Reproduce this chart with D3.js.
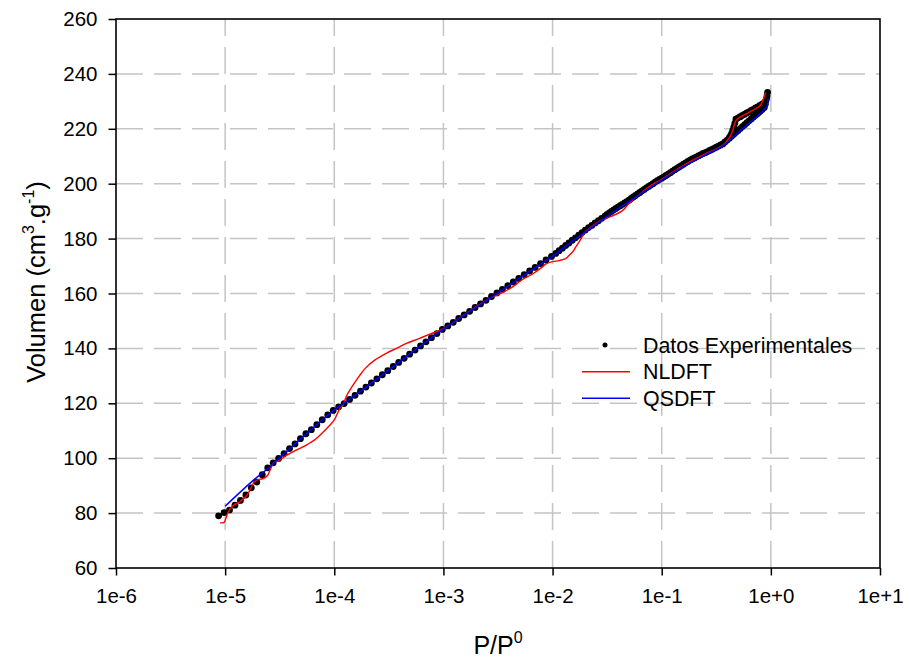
<!DOCTYPE html>
<html>
<head>
<meta charset="utf-8">
<script src="https://cdn.jsdelivr.net/npm/d3@7"></script>
<style>
  html, body { margin: 0; padding: 0; background: #fff; }
  svg { display: block; }
  text { font-family: "Liberation Sans", Arial, sans-serif; fill: #000; }
</style>
</head>
<body>
<svg id="chart" width="905" height="658"></svg>
<script>
// ---------- data (x stored as log10(P/P0)) ----------
const xTickValues = [1e-6, 1e-5, 1e-4, 1e-3, 1e-2, 1e-1, 1e0, 1e1];
const xTickLabels = ["1e-6", "1e-5", "1e-4", "1e-3", "1e-2", "1e-1", "1e+0", "1e+1"];
const yTickValues = [60, 80, 100, 120, 140, 160, 180, 200, 220, 240, 260];

// Experimental adsorption branch
const adsLogP = [-5.06,-5.01,-4.96,-4.91,-4.86,-4.81,-4.76,-4.71,-4.66,-4.61,-4.56,-4.51,-4.46,-4.41,-4.36,-4.31,-4.26,-4.21,-4.16,-4.11,-4.06,-4.01,-3.96,-3.91,-3.86,-3.81,-3.76,-3.71,-3.66,-3.61,-3.56,-3.51,-3.46,-3.41,-3.36,-3.31,-3.26,-3.21,-3.16,-3.11,-3.06,-3.01,-2.96,-2.91,-2.86,-2.81,-2.76,-2.71,-2.66,-2.61,-2.56,-2.51,-2.46,-2.41,-2.36,-2.31,-2.26,-2.21,-2.16,-2.11,-2.06,-2.01,
  -1.97,-1.94,-1.91,-1.88,-1.85,-1.82,-1.79,-1.76,-1.73,-1.70,-1.67,-1.64,-1.61,-1.58,-1.55,-1.52,
  -1.50,-1.48,-1.46,-1.44,-1.42,-1.40,-1.38,-1.36,-1.34,-1.32,-1.30,-1.28,-1.26,-1.24,-1.22,-1.20,-1.18,-1.16,-1.14,-1.12,-1.10,-1.08,-1.06,-1.04,-1.02,-1.00,
  -0.98,-0.96,-0.94,-0.92,-0.90,-0.88,-0.86,-0.84,-0.82,-0.80,-0.78,-0.76,-0.74,-0.72,-0.70,-0.68,-0.66,-0.64,-0.62,-0.60,-0.58,-0.56,-0.54,-0.52,-0.50,
  -0.48,-0.46,-0.44,-0.42,-0.40,-0.38,-0.36,-0.34,-0.32,-0.30,-0.28,-0.26,-0.24,-0.22,-0.20,-0.18,-0.16,-0.14,-0.12,-0.10,-0.08,-0.06,-0.05,-0.04,-0.03];
const adsV = [79.0,80.2,81.1,82.9,84.6,86.6,89.2,91.3,94.0,96.5,98.3,99.9,101.7,103.5,105.2,107.1,108.9,110.4,112.2,114.0,115.8,117.4,118.7,119.9,121.4,122.9,124.4,125.9,127.4,128.9,130.4,131.9,133.4,134.9,136.4,137.9,139.4,140.9,142.4,143.9,145.4,146.9,148.2,149.5,150.9,152.2,153.5,154.9,156.2,157.5,158.9,160.2,161.5,162.9,164.2,165.5,166.9,168.2,169.5,170.9,172.2,173.5,
  174.6,175.6,176.5,177.5,178.4,179.4,180.3,181.3,182.2,183.1,184.0,184.8,185.7,186.5,187.4,188.2,
  188.8,189.4,189.9,190.5,191.0,191.5,192.0,192.5,193.0,193.5,194.0,194.6,195.2,195.7,196.3,196.8,197.4,197.9,198.5,199.0,199.5,200.0,200.6,201.1,201.6,202.0,
  202.5,203.0,203.5,204.0,204.6,205.1,205.6,206.1,206.6,207.1,207.6,208.1,208.6,209.0,209.4,209.8,210.2,210.6,211.0,211.3,211.7,212.1,212.5,212.9,213.3,
  213.7,214.1,214.5,215.2,215.9,216.6,217.3,218.0,218.7,219.4,220.1,220.8,221.5,222.2,222.9,223.6,224.3,224.9,225.6,226.3,227.0,227.8,229.0,231.0,233.3];

// Experimental desorption branch
const desLogP = [-0.035,-0.045,-0.06,-0.08,-0.10,-0.12,-0.14,-0.16,-0.18,-0.20,-0.22,-0.24,-0.26,-0.28,-0.30,-0.32,-0.33,-0.34,-0.35,-0.36,-0.37,-0.38];
const desV = [232.0,230.3,229.5,229.0,228.5,228.0,227.6,227.1,226.7,226.2,225.8,225.3,224.9,224.4,224.0,223.5,222.0,220.6,219.3,218.2,217.4,216.8];

// NLDFT fit
const nldftLogP = [-5.045,-5.01,-4.99,-4.97,-4.93,-4.87,-4.80,-4.76,-4.73,-4.70,-4.65,-4.61,-4.58,-4.55,-4.50,-4.44,-4.35,-4.26,-4.17,-4.07,-4.00,-3.95,-3.92,-3.89,-3.83,-3.77,-3.71,-3.62,-3.52,-3.43,-3.34,-3.23,-3.13,-3.00,
  -2.80,-2.60,-2.45,-2.37,-2.28,-2.18,-2.10,-2.06,-2.00,-1.94,-1.88,-1.85,-1.81,-1.79,-1.74,-1.70,-1.62,-1.55,-1.45,-1.36,-1.30,-1.20,-1.10,-1.00,
  -0.80,-0.60,-0.44,-0.38,-0.35,-0.32,-0.20,-0.10,-0.047];
const nldftV = [76.5,76.6,78.5,80.5,82.7,84.0,86.5,89.5,91.5,92.2,92.6,93.8,96.5,98.5,99.3,101.0,102.9,104.7,107.0,110.8,114.0,118.0,119.5,122.5,126.5,130.0,133.0,136.0,138.3,140.0,141.8,143.5,145.1,147.2,
  152.5,157.7,160.5,162.3,165.0,167.2,169.5,170.8,171.6,172.0,172.7,173.8,175.5,176.8,179.9,182.5,185.0,186.8,188.3,190.2,192.8,196.2,199.3,201.6,
  206.7,210.9,214.0,216.8,219.2,223.0,226.0,228.4,233.2];

// QSDFT fit
const qsdftLogP = [-5.00,-4.74,-4.60,-4.50,-4.40,-4.30,-4.20,-4.10,-4.00,-3.90,-3.80,-3.70,-3.60,-3.50,-3.40,-3.30,-3.20,-3.10,-3.00,-2.80,-2.60,-2.40,-2.20,-2.00,-1.80,-1.60,-1.40,-1.20,-1.00,-0.80,-0.60,-0.44,-0.30,-0.15,-0.06,-0.035,-0.025];
const qsdftV = [82.5,92.0,96.5,100.2,103.8,107.4,110.8,114.3,117.6,120.3,123.2,126.2,129.2,132.2,135.2,138.2,141.2,144.2,147.0,152.4,157.6,163.0,168.3,173.6,179.6,185.3,190.8,196.1,201.3,206.3,210.5,213.8,218.6,223.7,227.0,228.4,231.0];

const legendLabels = ["Datos Experimentales", "NLDFT", "QSDFT"];

// ---------- drawing ----------
const svg = d3.select("#chart");
const plot = { left: 116, right: 880, top: 19, bottom: 568 };

const x = d3.scaleLog().domain([1e-6, 1e1]).range([plot.left, plot.right]);
const y = d3.scaleLinear().domain([60, 260]).range([plot.bottom, plot.top]);
const px = l => x(Math.pow(10, l));

// grid lines
const grid = svg.append("g").attr("stroke", "#c4c4c4").attr("stroke-width", 1.5)
  .attr("stroke-dasharray", "27,11").attr("fill", "none");
grid.selectAll("line.v").data(xTickValues.slice(1, -1)).join("line")
  .attr("x1", d => x(d)).attr("x2", d => x(d))
  .attr("y1", plot.bottom).attr("y2", plot.top);
grid.selectAll("line.h").data(yTickValues.slice(1, -1)).join("line")
  .attr("x1", plot.left).attr("x2", plot.right)
  .attr("y1", d => y(d)).attr("y2", d => y(d));

// experimental points
const expPts = adsLogP.map((l, i) => [l, adsV[i]]).concat(desLogP.map((l, i) => [l, desV[i]]));
svg.append("g").selectAll("circle").data(expPts).join("circle")
  .attr("cx", d => px(d[0])).attr("cy", d => y(d[1])).attr("r", 3.4).attr("fill", "#000");

// NLDFT
svg.append("path").datum(nldftLogP.map((l, i) => [l, nldftV[i]]))
  .attr("d", d3.line().x(d => px(d[0])).y(d => y(d[1])).curve(d3.curveCatmullRom.alpha(0.5)))
  .attr("fill", "none").attr("stroke", "#ff0000").attr("stroke-width", 1.4);

// QSDFT
svg.append("path").datum(qsdftLogP.map((l, i) => [l, qsdftV[i]]))
  .attr("d", d3.line().x(d => px(d[0])).y(d => y(d[1])).curve(d3.curveCatmullRom.alpha(0.5)))
  .attr("fill", "none").attr("stroke", "#0000ff").attr("stroke-width", 1.5);

// frame
svg.append("rect").attr("x", plot.left).attr("y", plot.top)
  .attr("width", plot.right - plot.left).attr("height", plot.bottom - plot.top)
  .attr("fill", "none").attr("stroke", "#000").attr("stroke-width", 1.6);

// axes
const xAxis = d3.axisBottom(x).tickValues(xTickValues)
  .tickFormat((d, i) => xTickLabels[i]).tickSize(7.5).tickSizeOuter(0).tickPadding(13);
const gx = svg.append("g").attr("transform", `translate(0,${plot.bottom})`).call(xAxis);
gx.select(".domain").remove();
gx.selectAll("line").attr("stroke", "#000").attr("stroke-width", 1.5);
gx.selectAll("text").style("font-size", "20.5px").style("font-family", "Liberation Sans, Arial, sans-serif").attr("fill", "#000");

const yAxis = d3.axisLeft(y).tickValues(yTickValues).tickFormat(d3.format("d"))
  .tickSize(7.5).tickSizeOuter(0).tickPadding(11);
const gy = svg.append("g").attr("transform", `translate(${plot.left},0)`).call(yAxis);
gy.select(".domain").remove();
gy.selectAll("line").attr("stroke", "#000").attr("stroke-width", 1.5);
gy.selectAll("text").style("font-size", "20.5px").style("font-family", "Liberation Sans, Arial, sans-serif").attr("fill", "#000");

// axis titles
const xt = svg.append("text").attr("x", 498).attr("y", 654).attr("text-anchor", "middle")
  .style("font-size", "25px");
xt.append("tspan").text("P/P");
xt.append("tspan").attr("dy", -11).style("font-size", "16px").text("0");

const yt = svg.append("text").attr("transform", "translate(45,282) rotate(-90)")
  .attr("text-anchor", "middle").style("font-size", "25.5px");
yt.append("tspan").text("Volumen (cm");
yt.append("tspan").attr("dy", -11).style("font-size", "16px").text("3");
yt.append("tspan").attr("dy", 11).text(".g");
yt.append("tspan").attr("dy", -11).style("font-size", "16px").text("-1");
yt.append("tspan").attr("dy", 11).text(")");

// legend
const lg = svg.append("g");
lg.append("circle").attr("cx", 605).attr("cy", 345).attr("r", 2.5).attr("fill", "#000");
lg.append("line").attr("x1", 582).attr("x2", 630).attr("y1", 371.7).attr("y2", 371.7)
  .attr("stroke", "#ff0000").attr("stroke-width", 1.4);
lg.append("line").attr("x1", 582).attr("x2", 630).attr("y1", 398.3).attr("y2", 398.3)
  .attr("stroke", "#0000ff").attr("stroke-width", 1.5);
lg.selectAll("text").data(legendLabels).join("text")
  .attr("x", 643).attr("y", (d, i) => 352.5 + i * 26.6)
  .style("font-size", "21.4px").text(d => d);
</script>
</body>
</html>
